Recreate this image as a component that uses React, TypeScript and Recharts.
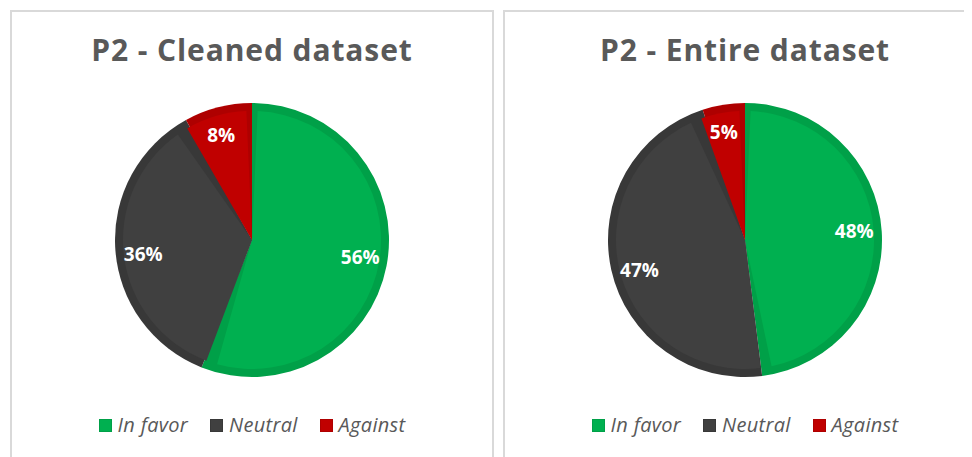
import React from 'react';
import { PieChart, Pie, Cell } from 'recharts';

// Opinion shares per dataset (percent)
const categories = ['In favor', 'Neutral', 'Against'];
const cleanedValues = [56, 36, 8];
const entireValues = [48, 47, 5];
const titles = ['P2 - Cleaned dataset', 'P2 - Entire dataset'];

const FILL = ['#00B050', '#404040', '#C00000'];
const EDGE = ['#00A048', '#383838', '#AE0000'];

const RADIAN = Math.PI / 180;
const R = 137;

const renderLabel = (props: any) => {
  const { cx, cy, midAngle, percent } = props;
  const r = R * 0.8;
  const x = cx + r * Math.cos(-midAngle * RADIAN);
  const y = cy + r * Math.sin(-midAngle * RADIAN);
  return (
    <text
      x={x}
      y={y}
      fill="#fff"
      textAnchor="middle"
      dominantBaseline="central"
      fontFamily="Open Sans"
      fontWeight={700}
      fontSize={19}
    >
      {`${Math.round(percent * 100)}%`}
    </text>
  );
};

const LegendRow: React.FC = () => (
  <div
    style={{
      position: 'absolute',
      left: 0,
      top: 400,
      width: 480,
      display: 'flex',
      justifyContent: 'center',
      alignItems: 'center',
      fontFamily: 'Open Sans',
      fontStyle: 'italic',
      fontSize: 20,
      letterSpacing: 0.3,
      color: '#595959',
      lineHeight: '26px',
    }}
  >
    {categories.map((name, i) => (
      <div key={name} style={{ display: 'flex', alignItems: 'center', marginLeft: i === 0 ? 0 : 22 }}>
        <span
          style={{
            display: 'inline-block',
            width: 11,
            height: 11,
            background: FILL[i],
            border: `1px solid ${EDGE[i]}`,
            marginRight: 6,
          }}
        />
        <span>{name}</span>
      </div>
    ))}
  </div>
);

const Panel: React.FC<{ title: string; values: number[]; left: number }> = ({ title, values, left }) => {
  const data = categories.map((name, i) => ({ name, value: values[i] }));
  return (
    <div
      style={{
        position: 'absolute',
        left,
        top: 2,
        width: 480,
        height: 460,
        borderLeft: '2px solid #d9d9d9',
        borderRight: '2px solid #d9d9d9',
        borderTop: '2px solid #d9d9d9',
      }}
    >
      <div
        style={{
          position: 'absolute',
          left: 0,
          top: 20,
          width: 480,
          textAlign: 'center',
          fontFamily: 'Open Sans',
          fontWeight: 700,
          fontSize: 30,
          color: '#595959',
          lineHeight: '36px',
          letterSpacing: 0.9,
        }}
      >
        {title}
      </div>
      <PieChart width={480} height={445} margin={{ top: 0, right: 0, bottom: 0, left: 0 }}>
        <Pie
          data={data}
          dataKey="value"
          nameKey="name"
          cx={240}
          cy={228}
          outerRadius={R}
          startAngle={90}
          endAngle={-270}
          stroke="none"
          legendType="none"
          isAnimationActive={false}
        >
          {data.map((_, i) => (
            <Cell key={`edge-${i}`} fill={EDGE[i]} />
          ))}
        </Pie>
        <Pie
          data={data}
          dataKey="value"
          nameKey="name"
          cx={240}
          cy={228}
          outerRadius={R - 8}
          startAngle={87.5}
          endAngle={-272.5}
          paddingAngle={5}
          stroke="none"
          label={renderLabel}
          labelLine={false}
          isAnimationActive={false}
        >
          {data.map((_, i) => (
            <Cell key={`fill-${i}`} fill={FILL[i]} />
          ))}
        </Pie>
      </PieChart>
      <LegendRow />
    </div>
  );
};

export default function App() {
  return (
    <div style={{ position: 'relative', width: 964, height: 449, overflow: 'hidden' }}>
      <Panel title={titles[0]} values={cleanedValues} left={2} />
      <Panel title={titles[1]} values={entireValues} left={495} />
    </div>
  );
}
